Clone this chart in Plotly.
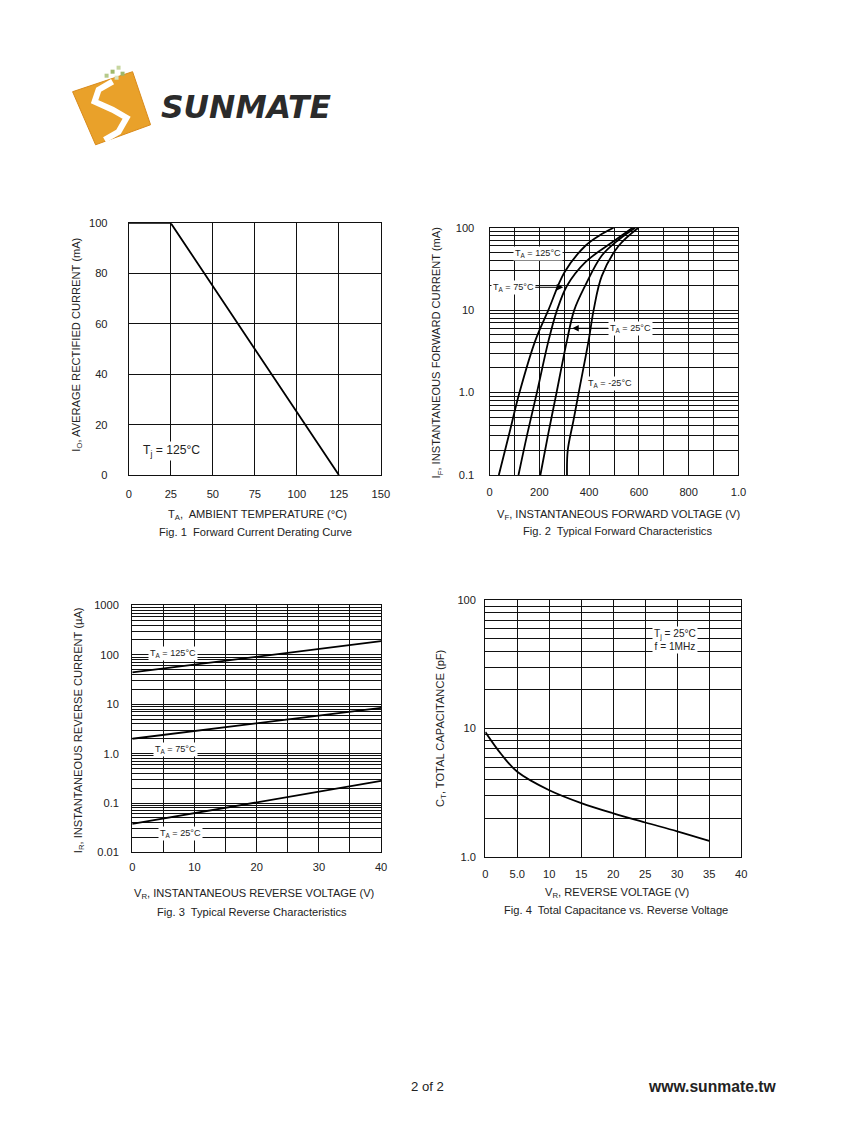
import plotly.graph_objects as go

W, H = 847, 1125
FONT = "Arial, Liberation Sans, sans-serif"

# ---------------- data ----------------
# Fig 1: derating curve
fig1_temp = [0, 25, 125]
fig1_current = [100, 100, 0]
fig1_xticks = [0, 25, 50, 75, 100, 125, 150]
fig1_yticks = [0, 20, 40, 60, 80, 100]

# Fig 2: forward characteristics (VF in mV, IF in mA)
vf_125 = [37, 78, 120, 184, 236, 301, 384, 440, 498]
if_125 = [0.1, 0.31, 1.0, 4.3, 10, 28.8, 60, 80, 100]
vf_75 = [116, 152, 190, 237, 271, 311, 384, 491, 575]
if_75 = [0.1, 0.32, 1.0, 4.3, 10, 19.8, 38, 66, 100]
vf_25 = [204, 236, 269, 311, 340, 384, 451, 520, 585]
if_25 = [0.1, 0.32, 1.0, 4.3, 10, 19.8, 46, 72, 100]
vf_m25 = [311, 314, 337, 358, 398, 418, 451, 518, 598]
if_m25 = [0.1, 0.2, 0.46, 1.0, 4.3, 10, 26, 60, 100]
fig2_xtickvals = [0, 200, 400, 600, 800, 1000]
fig2_xticktext = ["0", "200", "400", "600", "800", "1.0"]
fig2_xminor = [100, 300, 500, 700, 900]
fig2_ytickvals = [0.1, 1, 10, 100]
fig2_yticktext = ["0.1", "1.0", "10", "100"]

# Fig 3: reverse characteristics (VR in V, IR in uA)
vr = [0, 40]
ir_125 = [44, 190]
ir_75 = [2.0, 8.4]
ir_25 = [0.038, 0.28]
fig3_xtickvals = [0, 10, 20, 30, 40]
fig3_xminor = [5, 15, 25, 35]
fig3_ytickvals = [0.01, 0.1, 1, 10, 100, 1000]
fig3_yticktext = ["0.01", "0.1", "1.0", "10", "100", "1000"]

# Fig 4: capacitance
vr_c = [0, 2.5, 5, 10, 15, 20, 25, 30, 35]
cap = [9.4, 6.3, 4.6, 3.3, 2.62, 2.18, 1.85, 1.58, 1.33]
fig4_xtickvals = [0, 5, 10, 15, 20, 25, 30, 35, 40]
fig4_xticktext = ["0", "5.0", "10", "15", "20", "25", "30", "35", "40"]
fig4_ytickvals = [1, 10, 100]
fig4_yticktext = ["1.0", "10", "100"]


def log_minor(lo_exp, hi_exp):
    return [round(k * 10 ** e, 6) for e in range(lo_exp, hi_exp) for k in range(2, 10)]


# page-pixel -> paper mapping (compensates the capture scaling of the page)
SX, OX = 0.9865, 2.35
SY, OY = 0.988, 6.4
FS = 1 / 0.987


def px(x):
    return ((x - OX) / SX) / W


def py(y):
    return 1 - ((y - OY) / SY) / H


def fs(s):
    return round(s * FS, 2)


fig = go.Figure()
LINE = dict(color="black", width=1.8)
SPL = dict(color="black", width=1.8, shape="spline", smoothing=1.0)

fig.add_trace(go.Scatter(x=fig1_temp, y=fig1_current, mode="lines", line=LINE,
                         xaxis="x", yaxis="y", showlegend=False))
for vx, iy in [(vf_125, if_125), (vf_75, if_75), (vf_25, if_25), (vf_m25, if_m25)]:
    fig.add_trace(go.Scatter(x=vx, y=iy, mode="lines", line=SPL,
                             xaxis="x2", yaxis="y2", showlegend=False))
for iy in [ir_125, ir_75, ir_25]:
    fig.add_trace(go.Scatter(x=vr, y=iy, mode="lines", line=LINE,
                             xaxis="x3", yaxis="y3", showlegend=False))
fig.add_trace(go.Scatter(x=vr_c, y=cap, mode="lines", line=SPL,
                         xaxis="x4", yaxis="y4", showlegend=False))

tickfont = dict(family=FONT, size=fs(11), color="#222")
common = dict(showgrid=True, gridcolor="#111", gridwidth=1, showline=True, linecolor="#111",
              linewidth=1.2, mirror=True, zeroline=False, ticks="", tickfont=tickfont, fixedrange=True)


def minor(vals):
    return dict(tickmode="array", tickvals=vals, showgrid=True, gridcolor="#111", gridwidth=1, ticks="")


fig.update_layout(
    width=W, height=H, margin=dict(l=0, r=0, t=0, b=0),
    paper_bgcolor="white", plot_bgcolor="white",
    font=dict(family=FONT, size=fs(11), color="#222"),
    xaxis=dict(domain=[px(128.3), px(380.5)], range=[0, 150], tickvals=fig1_xticks,
               ticklabelstandoff=8, anchor="y", **common),
    yaxis=dict(domain=[py(474.8), py(223.3)], range=[0, 100], tickvals=fig1_yticks,
               ticklabelstandoff=18, anchor="x", **common),
    xaxis2=dict(domain=[px(489.3), px(738.3)], range=[0, 1000], tickvals=fig2_xtickvals,
                ticktext=fig2_xticktext, minor=minor(fig2_xminor), ticklabelstandoff=6, anchor="y2", **common),
    yaxis2=dict(domain=[py(474.8), py(227.8)], type="log", range=[-1, 2], tickvals=fig2_ytickvals,
                ticktext=fig2_yticktext, minor=minor(log_minor(-1, 2)), ticklabelstandoff=12, anchor="x2", **common),
    xaxis3=dict(domain=[px(131.7), px(380.7)], range=[0, 40], tickvals=fig3_xtickvals,
                minor=minor(fig3_xminor), ticklabelstandoff=4, anchor="y3", **common),
    yaxis3=dict(domain=[py(851.7), py(605)], type="log", range=[-2, 3], tickvals=fig3_ytickvals,
                ticktext=fig3_yticktext, minor=minor(log_minor(-2, 3)), ticklabelstandoff=10, anchor="x3", **common),
    xaxis4=dict(domain=[px(485), px(741)], range=[0, 40], tickvals=fig4_xtickvals,
                ticktext=fig4_xticktext, ticklabelstandoff=7, anchor="y4", **common),
    yaxis4=dict(domain=[py(856), py(600)], type="log", range=[0, 2], tickvals=fig4_ytickvals,
                ticktext=fig4_yticktext, minor=minor(log_minor(0, 2)), ticklabelstandoff=6, anchor="x4", **common),
)

ann = []


def txt(x, y, s, size=11, bold=False, angle=0):
    ann.append(dict(x=px(x), y=py(y), xref="paper", yref="paper", text=("<b>%s</b>" % s) if bold else s,
                    showarrow=False, textangle=angle, font=dict(family=FONT, size=fs(size), color="#222"),
                    xanchor="center", yanchor="middle"))


# axis titles and captions
txt(76, 345, "I<sub>O</sub>, AVERAGE RECTIFIED CURRENT (mA)", angle=-90)
txt(257, 515, "T<sub>A</sub>,  AMBIENT TEMPERATURE (°C)")
txt(255, 532, "Fig. 1  Forward Current Derating Curve")

txt(437, 352, "I<sub>F</sub>, INSTANTANEOUS FORWARD CURRENT (mA)", angle=-90)
txt(618, 515, "V<sub>F</sub>, INSTANTANEOUS FORWARD VOLTAGE (V)")
txt(617, 531, "Fig. 2  Typical Forward Characteristics")

txt(78, 730, "I<sub>R</sub>, INSTANTANEOUS REVERSE CURRENT (µA)", angle=-90)
txt(254, 893, "V<sub>R</sub>, INSTANTANEOUS REVERSE VOLTAGE (V)")
txt(252, 911, "Fig. 3  Typical Reverse Characteristics")

txt(440, 727, "C<sub>T</sub>, TOTAL CAPACITANCE (pF)", angle=-90)
txt(617, 892, "V<sub>R</sub>, REVERSE VOLTAGE (V)")
txt(616, 909, "Fig. 4  Total Capacitance vs. Reverse Voltage")

txt(427, 1085, "2 of 2", size=13)
txt(712, 1085, "www.sunmate.tw", size=15.5, bold=True)


def label(x, y, xr, yr, s, size=11, arrow=None):
    d = dict(x=x, y=y, xref=xr, yref=yr, text=s, showarrow=False, bgcolor="white",
             font=dict(family=FONT, size=fs(size), color="#222"), borderpad=1)
    if arrow is not None:
        d.update(showarrow=True, ax=arrow, ay=0, arrowhead=2, arrowsize=1.3, arrowwidth=1,
                 arrowcolor="black", standoff=0)
    ann.append(d)


label(25.4, 9.5, "x", "y", "T<sub>j</sub> = 125°C", size=12)
label(196, 1.689, "x2", "y2", "T<sub>A</sub> = 125°C", size=9)
label(296, 1.277, "x2", "y2", "T<sub>A</sub> = 75°C", size=9, arrow=-50)
label(332, 0.780, "x2", "y2", "T<sub>A</sub> = 25°C", size=9, arrow=58)
label(484, 0.114, "x2", "y2", "T<sub>A</sub> = -25°C", size=9)
label(6.6, 2.027, "x3", "y3", "T<sub>A</sub> = 125°C", size=9)
label(7.0, 0.075, "x3", "y3", "T<sub>A</sub> = 75°C", size=9)
label(7.8, -1.615, "x3", "y3", "T<sub>A</sub> = 25°C", size=9)
label(29.7, 1.6875, "x4", "y4", "T<sub>j</sub> = 25°C<br>f = 1MHz", size=10)

# logo text
ann.append(dict(x=px(246), y=py(107), xref="paper", yref="paper", text="<b><i>SUNMATE</i></b>",
                showarrow=False, font=dict(family="DejaVu Sans", size=fs(31), color="#2b2b2b"),
                xanchor="center", yanchor="middle"))
fig.update_layout(annotations=ann)

# logo graphic
shapes = []
sq = [(72, 92), (132, 72), (150, 125), (95, 145)]
path = "M %f %f " % (px(sq[0][0]), py(sq[0][1])) + " ".join("L %f %f" % (px(a), py(b)) for a, b in sq[1:]) + " Z"
shapes.append(dict(type="path", xref="paper", yref="paper", path=path, fillcolor="#E9A12A",
                   line=dict(color="#D98A1A", width=1)))
spts = [(112, 82), (98, 90), (94, 102), (112, 110), (126, 118), (118, 132), (104, 140)]
spath = "M %f %f " % (px(spts[0][0]), py(spts[0][1])) + " ".join("L %f %f" % (px(a), py(b)) for a, b in spts[1:])
shapes.append(dict(type="path", xref="paper", yref="paper", path=spath,
                   line=dict(color="white", width=6)))
for (a, b, c) in [(110, 70, "#9FB86A"), (116, 66, "#C7D6A0"), (104, 74, "#B5C98A"), (114, 76, "#D9E3BF"), (120, 72, "#9FB86A")]:
    shapes.append(dict(type="rect", xref="paper", yref="paper", x0=px(a), x1=px(a + 4), y0=py(b + 4), y1=py(b),
                       fillcolor=c, line=dict(width=0)))
fig.update_layout(shapes=shapes)

fig.write_html(
    "out.html",
    config={"displayModeBar": False},
    post_script=("document.documentElement.style.overflow='hidden';"
                 "document.body.style.overflow='hidden';"
                 "document.body.style.margin='0px';document.body.style.padding='0px';"),
)
